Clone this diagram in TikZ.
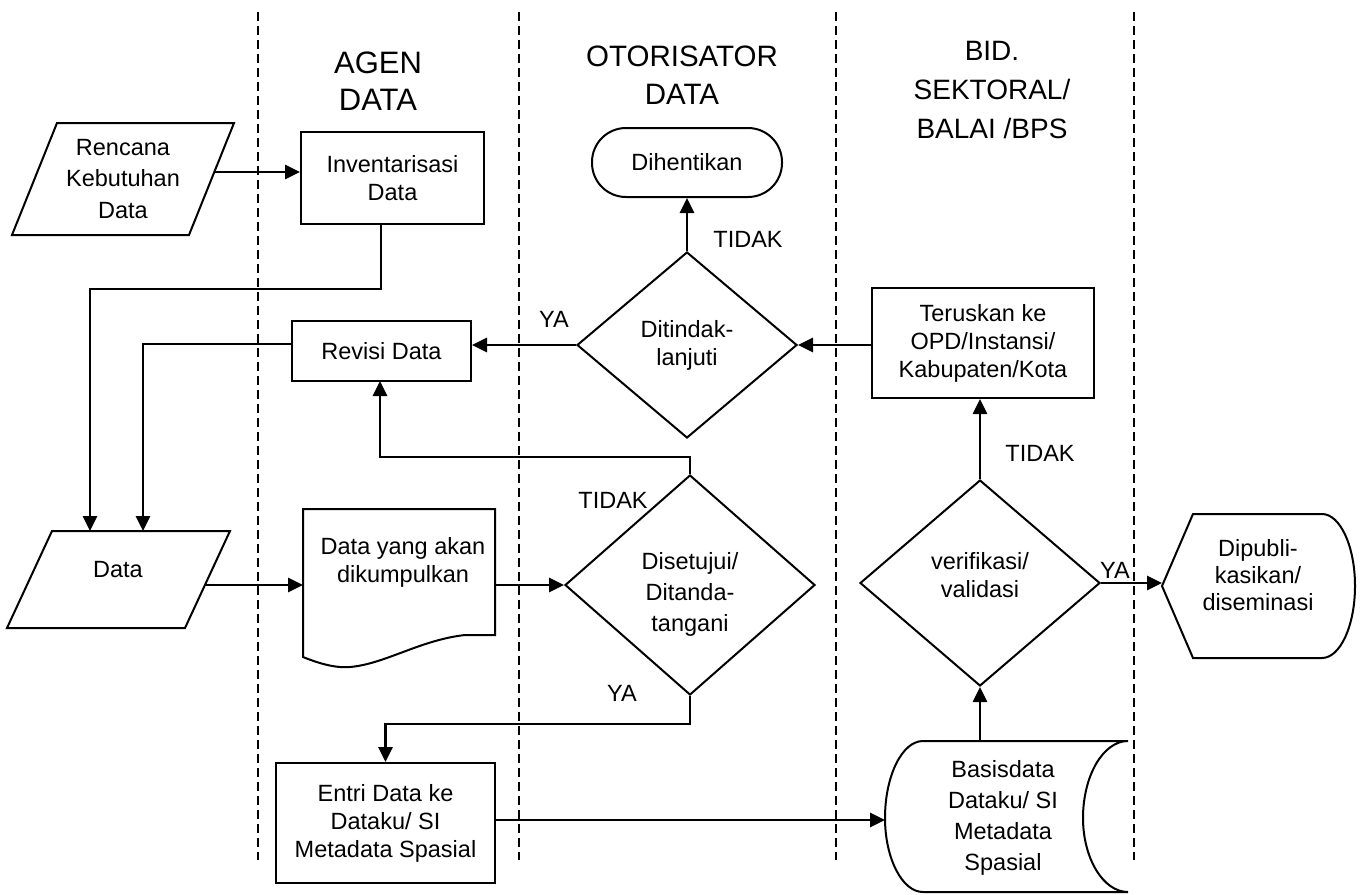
\documentclass[tikz,border=0pt]{standalone}
\usepackage{fontspec}
\setmainfont{Liberation Sans}
\usetikzlibrary{arrows.meta,shapes.geometric}

\begin{document}
\begin{tikzpicture}[x=1pt,y=-1pt,
  outline/.style={draw, line width=2pt},
  body/.style={font=\fontsize{23.5}{28}\selectfont},
  box/.style={outline, body, rectangle, inner sep=0pt, align=center},
  txt/.style={body, align=center, inner sep=0pt},
  decision/.style={outline, body, diamond, inner sep=0pt, align=center},
  flow/.style={line width=2.7pt, -{Triangle[length=15pt,width=14pt]}},
  lane/.style={line width=2pt, dash pattern=on 9pt off 5pt},
  head/.style={align=center, inner sep=0pt, font=\fontsize{28}{37.5}\selectfont},
  lbl/.style={body, inner sep=0pt}
]
\useasboundingbox (0,0) rectangle (1365,894);

% swimlane separators
\foreach \lx in {258,519,836,1134}
  \draw[lane] (\lx,12) -- (\lx,860);

% lane headings
\node[head, font=\fontsize{31}{37.5}\selectfont] (hAgen) at (378,81) {AGEN\\DATA};
\node[head, font=\fontsize{29.5}{37.5}\selectfont] (hOto) at (682,75) {OTORISATOR\\DATA};
\node[head, font=\fontsize{28}{39}\selectfont] (hBid) at (992,90) {BID.\\SEKTORAL/\\BALAI /BPS};

% Rencana Kebutuhan Data (input)
\draw[outline] (57,123) -- (234,123) -- (189,235) -- (12,235) -- cycle;
\node[txt, font=\fontsize{23.5}{31.5}\selectfont] (ren) at (123,179) {Rencana\\Kebutuhan\\Data};
\coordinate (renOut) at (214,172);

% Inventarisasi Data
\node[box, minimum width=183pt, minimum height=92pt] (inv) at (392.5,178) {Inventarisasi\\Data};
\coordinate (invOut) at (381,224);

% Data (input)
\draw[outline] (52,531) -- (230,531) -- (185,628) -- (7,628) -- cycle;
\node[txt] (data) at (118,570) {Data};
\coordinate (dataIn1) at (90,531);
\coordinate (dataIn2) at (143,531);
\coordinate (dataOut) at (205,585);

% Revisi Data
\node[box, minimum width=179pt, minimum height=60pt] (rev) at (381.5,351) {Revisi Data};
\coordinate (revL) at (292,344);
\coordinate (revIn) at (380,381);

% Dihentikan (terminator)
\node[box, rounded corners=34pt, minimum width=190pt, minimum height=69pt] (stop) at (687,162.5) {Dihentikan};

% Ditindaklanjuti decision
\node[decision, minimum width=220pt, minimum height=186pt] (dtl) at (687,345) {Ditindak-\\lanjuti};

% Teruskan ke OPD
\node[box, minimum width=222pt, minimum height=110pt] (fwd) at (983,343) {Teruskan ke\\OPD/Instansi/\\Kabupaten/Kota};

% Data yang akan dikumpulkan (document)
\draw[outline] (303,509) -- (495,509) -- (495,635) -- (465,635)
  .. controls (420,640) and (385,664) .. (350,667)
  .. controls (340,668) and (325,666) .. (303,657) -- cycle;
\node[txt] (doc) at (403,562) {Data yang akan\\dikumpulkan};
\coordinate (docIn) at (303,585);
\coordinate (docOut) at (495,585);

% Disetujui decision
\node[decision, minimum width=250pt, minimum height=220pt] (set) at (690,585) {};
\node[txt, font=\fontsize{23.5}{31}\selectfont] (setTxt) at (690,594) {Disetujui/\\Ditanda-\\tangani};

% verifikasi / validasi decision
\node[decision, minimum width=240pt, minimum height=206pt] (ver) at (980,583) {};
\node[txt] (verTxt) at (980,575) {verifikasi/\\validasi};

% Dipublikasikan (display)
\draw[outline] (1162,586) -- (1193,514) -- (1322,514)
  .. controls (1340,514) and (1355,546) .. (1355,586)
  .. controls (1355,626) and (1340,658) .. (1322,658)
  -- (1193,658) -- cycle;
\node[txt, font=\fontsize{23.5}{27}\selectfont] (pub) at (1258,575) {Dipubli-\\kasikan/\\diseminasi};
\coordinate (pubIn) at (1162,586);

% Entri Data
\node[box, minimum width=219pt, minimum height=120pt] (ent) at (385.5,823) {Entri Data ke\\Dataku/ SI\\Metadata Spasial};
\coordinate (entOut) at (495,820);

% Basisdata (stored data)
\draw[outline] (923,741) -- (1128,741)
  .. controls (1103,741) and (1083,776) .. (1083,818)
  .. controls (1083,858) and (1103,892) .. (1128,892)
  -- (923,892)
  .. controls (902,892) and (885,858) .. (885,818)
  .. controls (885,776) and (902,741) .. (923,741) -- cycle;
\node[txt, font=\fontsize{23.5}{31}\selectfont] (db) at (1003,818) {Basisdata\\Dataku/ SI\\Metadata\\Spasial};
\coordinate (dbIn) at (885,820);
\coordinate (dbTop) at (980,741);

% connectors
\draw[flow] (renOut) -- (renOut -| inv.west);
\draw[flow] (invOut) -- ++(0,65) -| (dataIn1);
\draw[flow] (revL) -| (dataIn2);
\draw[flow] (dtl.west) -- (dtl.west -| rev.east);
\draw[flow] (dtl.north) -- (stop.south);
\draw[flow] (dtl.east -| fwd.west) -- (dtl.east);
\draw[flow] (ver.north) -- (ver.north |- fwd.south);
\draw[flow] (ver.east) -- (ver.east -| pubIn);
\draw[flow] (dataOut) -- (docIn);
\draw[flow] (docOut) -- (set.west);
\draw[flow] (set.north) -- ++(0,-17) -| (revIn);
\draw[flow] (set.south) -- ++(0,28) -| (ent.north);
\draw[flow] (entOut) -- (dbIn);
\draw[flow] (dbTop) -- (ver.south);

% branch labels
\node[lbl] (l1) at (748,239) {TIDAK};
\node[lbl] (l2) at (554,319) {YA};
\node[lbl] (l3) at (613,500) {TIDAK};
\node[lbl] (l4) at (622,693) {YA};
\node[lbl] (l5) at (1040,453) {TIDAK};
\node[lbl] (l6) at (1115,570) {YA};
\end{tikzpicture}
\end{document}
